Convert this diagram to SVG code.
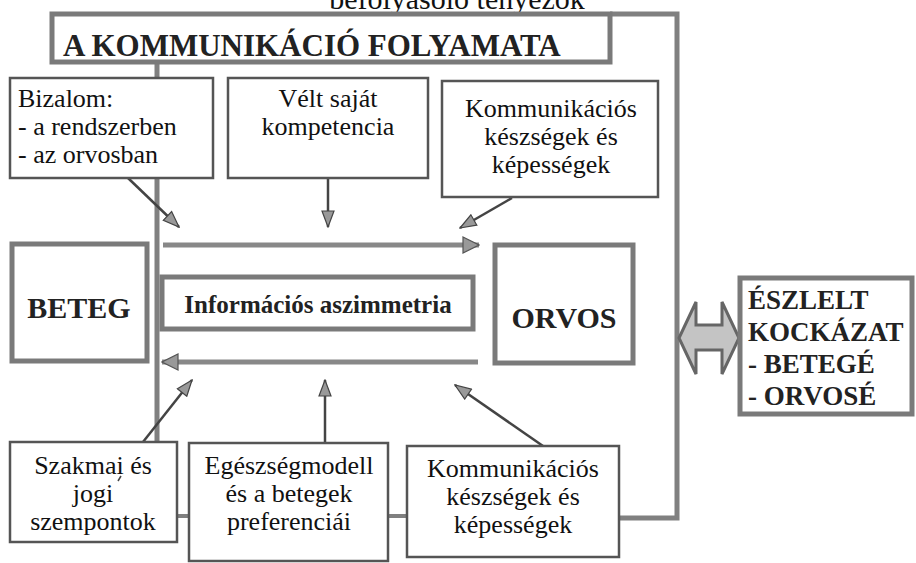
<svg xmlns="http://www.w3.org/2000/svg" width="916" height="563" viewBox="0 0 916 563">
<defs>
<style>
text{font-family:"Liberation Serif","Times New Roman",Times,serif}
.box{fill:#fff;stroke:#555;stroke-width:2.5}
.thick{fill:#fff;stroke:#7a7a7a;stroke-width:5}
.t{font-size:26px;fill:#111}
.b{font-weight:bold;fill:#222}
.c{text-anchor:middle}
.gl{stroke:#808080;stroke-width:5;fill:none}
.sl{stroke:#808080;stroke-width:4;fill:none}
.dl{stroke:#444;stroke-width:2.5;fill:none}
.hl{stroke:#888;stroke-width:5;fill:none}
</style>
<marker id="ah" viewBox="0 0 18 14" refX="17" refY="7" markerWidth="18" markerHeight="14" markerUnits="userSpaceOnUse" orient="auto">
<path d="M1,1 L17,7 L1,13 z" fill="#999" stroke="#444" stroke-width="1.2"/>
</marker>
<marker id="ahb" viewBox="0 0 18 18" refX="17" refY="9" markerWidth="18" markerHeight="18" markerUnits="userSpaceOnUse" orient="auto">
<path d="M1,1 L17,9 L1,17 z" fill="#999" stroke="#555" stroke-width="1.2"/>
</marker>
</defs>

<text class="t" x="457" y="9" text-anchor="middle" style="font-size:30px">befolyásoló tényezők</text>

<g id="connectors">
<polyline class="gl" points="610,14 677,14 677,518 619,518"/>
<line class="gl" x1="157" y1="62" x2="157" y2="442"/>
<line class="sl" x1="177" y1="516" x2="189" y2="516"/>
<line class="sl" x1="388" y1="516" x2="407" y2="516"/>
<line class="hl" x1="163" y1="245" x2="479" y2="245" marker-end="url(#ahb)"/>
<line class="hl" x1="478" y1="362" x2="162" y2="362" marker-end="url(#ahb)"/>
<line class="dl" x1="128" y1="178" x2="179" y2="227" marker-end="url(#ah)"/>
<line class="dl" x1="328" y1="178" x2="328" y2="227" marker-end="url(#ah)"/>
<line class="dl" x1="512" y1="198" x2="460" y2="228" marker-end="url(#ah)"/>
<line class="dl" x1="143" y1="442" x2="192" y2="380" marker-end="url(#ah)"/>
<line class="dl" x1="325" y1="443" x2="325" y2="380" marker-end="url(#ah)"/>
<line class="dl" x1="543" y1="446" x2="455" y2="385" marker-end="url(#ah)"/>
<path d="M679,338 L696,302 L696,325 L722,325 L722,302 L739,338 L722,374 L722,350 L696,350 L696,374 z" fill="#c4c4c4" stroke="#666" stroke-width="3"/>
</g>

<g id="title">
<rect class="thick" x="52" y="14" width="558" height="48"/>
<text class="b" x="63" y="56" style="font-size:31px">A KOMMUNIKÁCIÓ FOLYAMATA</text>
</g>

<g id="bizalom">
<rect class="box" x="10" y="78" width="203" height="100"/>
<text class="t" x="18" y="107">Bizalom:</text>
<text class="t" x="18" y="135">- a rendszerben</text>
<text class="t" x="18" y="163">- az orvosban</text>
</g>

<g id="kompetencia">
<rect class="box" x="228" y="78" width="200" height="100"/>
<text class="t c" x="328" y="107">Vélt saját</text>
<text class="t c" x="328" y="135">kompetencia</text>
</g>

<g id="komm-top">
<rect class="box" x="442" y="81" width="216" height="116"/>
<text class="t c" x="551" y="117">Kommunikációs</text>
<text class="t c" x="551" y="145">készségek és</text>
<text class="t c" x="551" y="173">képességek</text>
</g>

<g id="beteg">
<rect class="thick" x="12" y="244" width="135" height="117"/>
<text class="b c" x="79" y="318" style="font-size:30px">BETEG</text>
</g>

<g id="aszimmetria">
<rect class="thick" x="162" y="277" width="311" height="52"/>
<text class="b c" x="318" y="313" style="font-size:25px">Információs aszimmetria</text>
</g>

<g id="orvos">
<rect class="thick" x="495" y="245" width="138" height="118"/>
<text class="b c" x="564" y="328" style="font-size:30px">ORVOS</text>
</g>

<g id="kockazat">
<rect class="thick" x="740" y="278" width="172" height="136"/>
<text class="b" x="748" y="309" style="font-size:27px">ÉSZLELT</text>
<text class="b" x="748" y="341" style="font-size:27px">KOCKÁZAT</text>
<text class="b" x="748" y="373" style="font-size:27px">- BETEGÉ</text>
<text class="b" x="748" y="405" style="font-size:27px">- ORVOSÉ</text>
</g>

<g id="szakmai">
<rect class="box" x="10" y="442" width="167" height="100"/>
<text class="t c" x="93" y="474">Szakmai és</text>
<text class="t c" x="93" y="502">jogi</text>
<text class="t c" x="93" y="530">szempontok</text>
<line x1="118" y1="481" x2="121" y2="476" stroke="#444" stroke-width="1.5"/>
</g>

<g id="egeszsegmodell">
<rect class="box" x="189" y="443" width="199" height="118"/>
<text class="t c" x="289" y="474">Egészségmodell</text>
<text class="t c" x="289" y="502">és a betegek</text>
<text class="t c" x="289" y="530">preferenciái</text>
</g>

<g id="komm-bottom">
<rect class="box" x="407" y="446" width="212" height="111"/>
<text class="t c" x="513" y="477">Kommunikációs</text>
<text class="t c" x="513" y="505">készségek és</text>
<text class="t c" x="513" y="533">képességek</text>
</g>
</svg>
